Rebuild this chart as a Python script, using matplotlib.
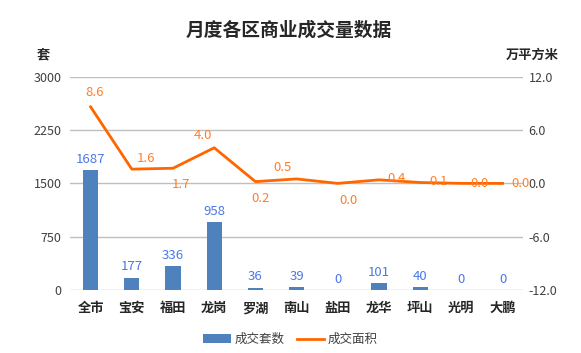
import matplotlib
matplotlib.use("Agg")
import matplotlib.pyplot as plt
from matplotlib.patches import Patch
from matplotlib.lines import Line2D
from matplotlib.ticker import FormatStrFormatter

plt.rcParams['font.family'] = ['Noto Sans CJK SC', 'DejaVu Sans']

districts = ["全市", "宝安", "福田", "龙岗", "罗湖", "南山", "盐田", "龙华", "坪山", "光明", "大鹏"]
units = [1687, 177, 336, 958, 36, 39, 0, 101, 40, 0, 0]
area = [8.6, 1.6, 1.7, 4.0, 0.2, 0.5, 0.0, 0.4, 0.1, 0.0, 0.0]

# label offsets (points) for the area labels, as in the source chart
area_offsets = [(3, 10), (10, 8), (6, -12), (-8, 9), (4, -12), (-10, 8),
                (8, -12), (13, 1), (13, 1), (13, 0), (13, 0)]

BAR_COLOR = "#4F81BD"
LINE_COLOR = "#FF6600"
GRID_COLOR = "#BFBFBF"
TEXT_COLOR = "#404040"

fig = plt.figure(figsize=(5.81, 3.53), dpi=100)
ax = fig.add_axes([0.1205, 0.178, 0.780, 0.605])
ax2 = ax.twinx()

x = list(range(len(districts)))
ax.bar(x, units, width=0.37, color=BAR_COLOR, zorder=2)
for xi, v in zip(x, units):
    ax.annotate(str(v), (xi, v), xytext=(0, 3), textcoords="offset points",
                ha="center", va="bottom", fontsize=9.5, color="#4A78E8")

ax.set_ylim(0, 3000)
ax.set_yticks([0, 750, 1500, 2250, 3000])
ax.set_xlim(-0.5, len(districts) - 0.5)
ax.set_xticks(x)
ax.set_xticklabels(districts, fontsize=9.5, fontweight="bold", color="#262626")
ax.yaxis.grid(True, color=GRID_COLOR, linewidth=1, zorder=0)
ax.set_axisbelow(True)
ax.tick_params(axis="y", length=0, labelsize=9, labelcolor=TEXT_COLOR, pad=6)
ax.tick_params(axis="x", length=0, pad=8)
for s in ax.spines.values():
    s.set_visible(False)

ax2.plot(x, area, color=LINE_COLOR, linewidth=2, zorder=3)
ax2.set_ylim(-12, 12)
ax2.set_yticks([-12, -6, 0, 6, 12])
ax2.yaxis.set_major_formatter(FormatStrFormatter("%.1f"))
ax2.tick_params(axis="y", length=0, labelsize=9, labelcolor=TEXT_COLOR, pad=4)
for s in ax2.spines.values():
    s.set_visible(False)
for xi, v, off in zip(x, area, area_offsets):
    ax2.annotate(f"{v:.1f}", (xi, v), xytext=off, textcoords="offset points",
                 ha="center", va="center", fontsize=9.5, color="#FF7F27")

fig.text(0.497, 0.915, "月度各区商业成交量数据", ha="center", va="center",
         fontsize=13.5, fontweight="bold", color="#262626")
fig.text(0.075, 0.845, "套", ha="center", va="center", fontsize=9.5,
         fontweight="bold", color="#262626")
fig.text(0.962, 0.845, "万平方米", ha="right", va="center", fontsize=9.5,
         fontweight="bold", color="#262626")

handles = [Patch(facecolor=BAR_COLOR, label="成交套数"),
           Line2D([0], [0], color=LINE_COLOR, linewidth=2, label="成交面积")]
fig.legend(handles=handles, loc="center", bbox_to_anchor=(0.5, 0.038), ncol=2,
           frameon=False, fontsize=9, handlelength=2.2, handleheight=0.7,
           columnspacing=1.0, handletextpad=0.3, labelcolor=TEXT_COLOR)

fig.savefig("out.png", dpi=100)
